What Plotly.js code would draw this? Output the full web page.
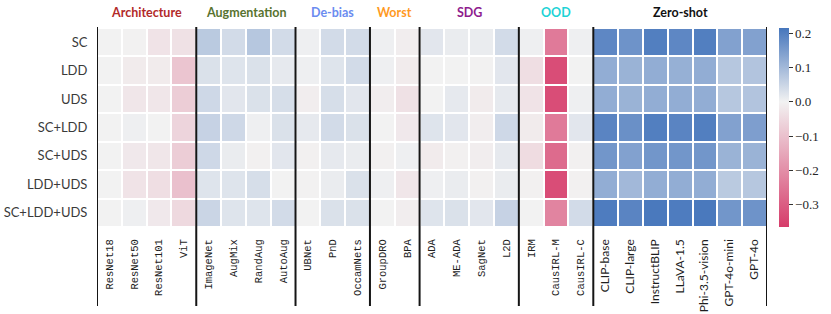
<!DOCTYPE html>
<html>
<head>
<meta charset="utf-8">
<script src="https://cdn.plot.ly/plotly-3.0.1.min.js"></script>
<style>html,body{margin:0;padding:0;background:#fff;}#chart{width:831px;height:314px;}</style>
</head>
<body>
<div id="chart"></div>
<script>
// ---- data ----
const models = ["ResNet18","ResNet50","ResNet101","ViT","ImageNet","AugMix","RandAug","AutoAug",
  "UBNet","PnD","OccamNets","GroupDRO","BPA","ADA","ME-ADA","SagNet","L2D",
  "IRM","CausIRL-M","CausIRL-C","CLIP-base","CLIP-large","InstructBLIP","LLaVA-1.5",
  "Phi-3.5-vision","GPT-4o-mini","GPT-4o"];
const settings = ["SC","LDD","UDS","SC+LDD","SC+UDS","LDD+UDS","SC+LDD+UDS"];
const sansModels = ["CLIP-base","CLIP-large","InstructBLIP","LLaVA-1.5","Phi-3.5-vision","GPT-4o-mini","GPT-4o"];

const valSC       = [0.0,-0.003,-0.03,-0.035, 0.07,0.04,0.075,0.04, 0.005,0.04,0.04, 0.005,-0.01, 0.02,0.01,0.01,0.04, 0.005,-0.24,0.005, 0.185,0.165,0.2,0.185,0.2,0.14,0.14];
const valLDD      = [0.0,-0.015,-0.015,-0.09, 0.03,0.025,0.03,0.015, 0.005,0.025,0.04, 0.005,-0.015, 0.0,0.0,-0.002,0.02, -0.04,-0.33,0.0, 0.12,0.11,0.12,0.115,0.12,0.075,0.08];
const valUDS      = [0.0,-0.025,-0.025,-0.075, 0.045,0.02,0.03,0.035, -0.01,0.035,0.02, -0.01,-0.035, 0.0,0.015,-0.015,0.015, -0.03,-0.33,0.005, 0.12,0.11,0.12,0.12,0.12,0.075,0.08];
const valSCLDD    = [0.0,0.005,0.0,-0.06, 0.055,0.045,0.005,0.03, 0.015,0.04,0.03, 0.0,-0.02, 0.025,0.02,-0.01,0.045, -0.015,-0.24,0.02, 0.19,0.17,0.2,0.19,0.2,0.14,0.145];
const valSCUDS    = [0.0,-0.02,-0.025,-0.075, 0.045,0.01,-0.005,0.02, -0.005,0.015,0.01, -0.005,0.005, -0.015,-0.005,-0.01,0.015, -0.045,-0.27,-0.005, 0.16,0.14,0.16,0.16,0.16,0.11,0.11];
const valLDDUDS   = [0.0,-0.03,-0.04,-0.1, 0.025,0.025,0.035,0.0, -0.003,0.01,0.03, 0.005,-0.025, 0.005,0.01,-0.005,0.01, -0.005,-0.33,-0.005, 0.12,0.10,0.12,0.12,0.12,0.07,0.075];
const valSCLDDUDS = [0.0,0.005,-0.02,-0.05, 0.05,0.025,0.025,0.04, 0.0,0.03,0.03, 0.0,-0.01, 0.025,0.03,0.02,0.055, 0.0,-0.22,0.04, 0.205,0.19,0.21,0.205,0.21,0.16,0.165];

const groupNames = ["Architecture","Augmentation","De-bias","Worst","SDG","OOD","Zero-shot"];
const groupSizes = [4,4,3,2,4,3,7];
const groupColors = ["#b22a2a","#587330","#6b8cf0","#ff9a1f","#8e1c8e","#1fd3d6","#111111"];

const cbTicks = [-0.3,-0.2,-0.1,0.0,0.1,0.2];

// ---- build ----
const z = [valSC,valLDD,valUDS,valSCLDD,valSCUDS,valLDDUDS,valSCLDDUDS];
const zmin = -0.365, zmax = 0.215;
const mid = (0 - zmin)/(zmax - zmin);
const colorscale = [[0,"#d63c6a"],[mid,"#f2f2f2"],[1,"#4676bc"]];

const ticktext = models.map(m => sansModels.includes(m)
  ? '<span style="font-family:Lato, sans-serif;font-size:12px">'+m+'</span>' : m);

const shapes = [];
const annotations = [];
let pos = -0.5;
shapes.push({type:"line", xref:"x", yref:"paper", x0:pos, x1:pos, y0:1.005, y1:-0.397, line:{color:"#151515", width:2}});
groupSizes.forEach((n,i)=>{
  const start = pos; pos += n;
  shapes.push({type:"line", xref:"x", yref:"paper", x0:pos, x1:pos, y0:1.005, y1:-0.397, line:{color:"#151515", width:2}});
  annotations.push({xref:"x", yref:"paper", x:(start+pos)/2, y:1.078, yanchor:"middle", xanchor:"center",
    text:"<b>"+groupNames[i]+"</b>", showarrow:false, font:{family:"Lato, sans-serif", size:12.5, color:groupColors[i]}});
});

const trace = {
  type:"heatmap", z:z, x:models, y:settings, coloraxis:"coloraxis",
  xgap:2, ygap:2, hoverongaps:false
};

const layout = {
  width:831, height:314,
  font:{family:"Liberation Serif", size:13, color:"#262626"},
  margin:{l:97, r:64, t:28, b:87, autoexpand:false},
  paper_bgcolor:"#fff", plot_bgcolor:"#fff",
  coloraxis:{cmin:zmin, cmax:zmax, colorscale:colorscale,
    colorbar:{thickness:10, len:1, lenmode:"fraction", y:0.5, yanchor:"middle", x:1.018, xanchor:"left",
      xpad:0, ypad:0, outlinewidth:0, tickmode:"array", tickvals:cbTicks,
      ticktext:cbTicks.map(v => (v<0?"\u2212":"")+Math.abs(v).toFixed(1)),
      ticks:"outside", ticklen:4, tickcolor:"#333",
      tickfont:{family:"Liberation Serif", size:13, color:"#262626"}}},
  xaxis:{type:"category", tickmode:"array", tickvals:models, ticktext:ticktext, tickangle:-90,
    ticks:"outside", ticklen:7, tickcolor:"rgba(0,0,0,0)",
    tickfont:{family:"Liberation Mono", size:10.5, color:"#1e1e1e"},
    showgrid:false, zeroline:false, showline:false, range:[-0.5, models.length-0.5]},
  yaxis:{autorange:"reversed", ticks:"outside", ticklen:6, tickcolor:"rgba(0,0,0,0)",
    tickfont:{family:"Lato", size:13, color:"#3a3a3a"},
    showgrid:false, zeroline:false, showline:false},
  shapes:shapes, annotations:annotations
};

Plotly.newPlot("chart", [trace], layout, {displayModeBar:false, staticPlot:true});
</script>
</body>
</html>
